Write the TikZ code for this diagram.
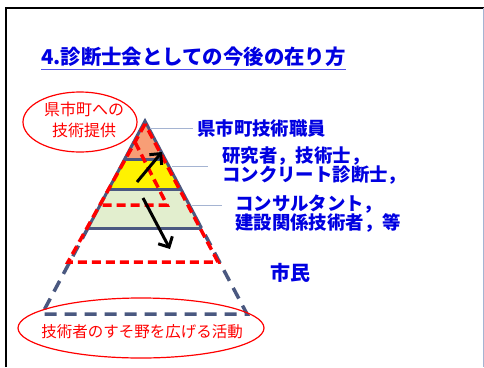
\documentclass[tikz,border=0pt]{standalone}
\usepackage{fontspec}
\newfontfamily\cjk{Noto Sans CJK JP}
\usetikzlibrary{arrows.meta,shapes.geometric}
\definecolor{tblue}{RGB}{0,0,225}
\definecolor{slate}{RGB}{74,88,128}
\definecolor{lead}{RGB}{165,180,210}
\definecolor{orangeband}{RGB}{247,158,118}
\definecolor{greenband}{RGB}{226,238,206}
\tikzset{
  bluelabel/.style={anchor=west, inner sep=0pt, text=tblue, align=left, font=\cjk\bfseries\fontsize{18.4}{19}\selectfont},
  redlabel/.style={inner sep=0pt, text=red, align=center, font=\cjk\fontsize{15.5}{23}\selectfont},
  redoval/.style={draw=red, line width=1.2pt},
  band/.style={draw=slate, line width=3pt},
  reddash/.style={draw=red, line width=3.5pt, dash pattern=on 9pt off 5pt},
  graydash/.style={draw=slate, line width=3.5pt, dash pattern=on 12pt off 8pt},
  leader/.style={draw=lead, line width=0.7pt},
  bigarrow/.style={draw=black, line width=3pt, -{Straight Barb[length=8pt,width=16pt]}}
}
\begin{document}
\begin{tikzpicture}[x=1pt,y=-1pt]
\useasboundingbox (0,0) rectangle (484,367);
\fill[white] (0,0) rectangle (484,367);
% slide frame
\draw[black, line width=2pt] (6,367) -- (6,8) -- (484,8);
\draw[lead, line width=1pt] (483,8) -- (483,367);
% title
\node[anchor=west, inner sep=0pt, text=tblue, font=\cjk\bfseries\fontsize{20.4}{24}\selectfont] (title) at (41,57) {4.診断士会としての今後の在り方};
\draw[tblue!70, line width=1pt] ([yshift=-2pt]title.south west) -- ([yshift=-2pt]title.south east);
% pyramid coordinates
\coordinate (A) at (145,121);
\coordinate (L1) at (124.7,159); \coordinate (R1) at (165.1,159);
\coordinate (L2) at (108.7,189); \coordinate (R2) at (180.9,189);
\coordinate (L3) at (87.9,228);  \coordinate (R3) at (201.5,228);
\coordinate (BL) at (42,314);    \coordinate (BR) at (247,314);
% fills
\fill[orangeband] (A) -- (L1) -- (R1) -- cycle;
\fill[yellow] (L1) -- (L2) -- (R2) -- (R1) -- cycle;
\fill[greenband] (L2) -- (L3) -- (R3) -- (R2) -- cycle;
% bands
\draw[band] (L1) -- (R1);
\draw[band] (L2) -- (R2);
\draw[band] (L3) -- (R3);
\draw[band, line join=miter] (L3) -- (A) -- (R3);
\draw[graydash] (L3) -- (BL) -- (BR) -- (R3);
% red dashed triangles
\coordinate (RA) at (145,124);
\coordinate (RL) at (68,262);
\coordinate (RR) at (218,262);
\draw[reddash] (RA) -- (RL) -- (RR) -- cycle;
\coordinate (IA) at (135,142);
\coordinate (IB) at (167,205);
\coordinate (IC) at (100,205);
\draw[reddash] (IA) -- (IB) -- (IC);
% arrows
\coordinate (u1) at (137,182); \coordinate (u2) at (162,152);
\coordinate (d1) at (143,198); \coordinate (d2) at (170,249);
\draw[bigarrow] (u1) -- (u2);
\draw[bigarrow] (d1) -- (d2);
% labels
\node[bluelabel] (lab1) at (197,128) {県市町技術職員};
\node[bluelabel] (lab2) at (222,166) {研究者，技術士，\\コンクリート診断士，};
\node[bluelabel] (lab3) at (235,214) {コンサルタント，\\建設関係技術者，等};
\node[bluelabel, font=\cjk\bfseries\fontsize{20}{22}\selectfont] (lab4) at (270,273) {市民};
\coordinate (k1) at (150,128);
\coordinate (k2) at (172,166);
\coordinate (k3) at (192,205);
\draw[leader] (k1) -- ([xshift=-4pt]lab1.west);
\draw[leader] (k2) -- ([xshift=-14pt]lab2.west);
\draw[leader] (k3) -- ([xshift=-13pt]lab3.west |- k3);
% red ovals
\node[redoval, ellipse, minimum width=114pt, minimum height=60pt, inner sep=0pt] (oval1) at (80,122) {};
\node[redlabel, font=\cjk\fontsize{16}{21}\selectfont] (txt1) at (84,120) {県市町への\\技術提供};
\node[redoval, ellipse, minimum width=246pt, minimum height=60pt, inner sep=0pt] (oval2) at (141,328) {};
\node[redlabel] (txt2) at (142,332) {技術者のすそ野を広げる活動};
\end{tikzpicture}
\end{document}
